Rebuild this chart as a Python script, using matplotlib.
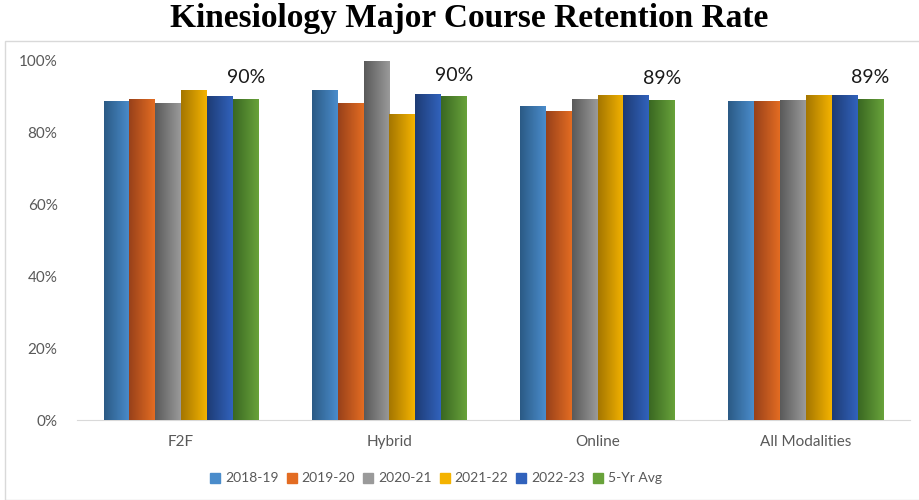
import matplotlib.pyplot as plt
import numpy as np
from matplotlib.colors import LinearSegmentedColormap
from matplotlib.patches import Rectangle

categories = ['F2F', 'Hybrid', 'Online', 'All Modalities']
series_names = ['2018-19', '2019-20', '2020-21', '2021-22', '2022-23', '5-Yr Avg']
values = {
    '2018-19': [88.6, 91.9, 87.2, 88.6],
    '2019-20': [89.4, 88.3, 85.8, 88.6],
    '2020-21': [88.3, 100.0, 89.4, 89.1],
    '2021-22': [91.9, 85.0, 90.3, 90.5],
    '2022-23': [90.0, 90.8, 90.3, 90.3],
    '5-Yr Avg': [89.4, 90.0, 89.1, 89.4],
}
avg_labels = ['90%', '90%', '89%', '89%']
yticks = [0, 20, 40, 60, 80, 100]

# dark -> light, left to right gradient like the Excel fill
colors = [
    ('#2b5a85', '#4a8ccb'),
    ('#98411a', '#e36c22'),
    ('#5a5a5a', '#9a9a9a'),
    ('#a47600', '#f4b300'),
    ('#1e3c75', '#3162bc'),
    ('#3a6822', '#68a23a'),
]

plt.rcParams['font.family'] = ['Lato', 'DejaVu Sans']

fig = plt.figure(figsize=[9.19, 5], dpi=100)
ax = fig.add_axes([77 / 919, 80 / 500, 833 / 919, 359 / 500])

# chart area border
fig.patches.append(Rectangle((5 / 919, 0), 1.2, 459 / 500, transform=fig.transFigure,
                             fill=False, edgecolor='#d9d9d9', linewidth=1))

x = np.arange(len(categories))
n = len(series_names)
width = 0.745 / n
grad = np.linspace(0, 1, 64).reshape(1, -1)

for i, name in enumerate(series_names):
    offs = x + (i - (n - 1) / 2) * width
    bars = ax.bar(offs, values[name], width, color=colors[i][1], label=name, zorder=2)
    cmap = LinearSegmentedColormap.from_list(name, list(colors[i]))
    for b in bars:
        x0, y0 = b.get_x(), b.get_y()
        ax.imshow(grad, cmap=cmap, aspect='auto', zorder=3,
                  extent=[x0, x0 + b.get_width(), y0, y0 + b.get_height()])

# data labels above the 5-yr avg bars
avg_x = x + (n - 1) / 2 * width
for xi, v, lab in zip(avg_x, values['5-Yr Avg'], avg_labels):
    ax.text(xi, v + 3.6, lab, ha='center', va='bottom', fontsize=14, color='#1a1a1a')

ax.set_xlim(-0.5, len(categories) - 0.5)
ax.set_ylim(0, 100)
ax.set_xticks(x)
ax.set_xticklabels(categories, fontsize=11, color='#595959')
ax.set_yticks(yticks)
ax.set_yticklabels([f'{t}%' for t in yticks], fontsize=11, color='#595959')
ax.tick_params(axis='y', length=0, pad=14)
ax.tick_params(axis='x', length=0, pad=11)
for s in ['top', 'right', 'left']:
    ax.spines[s].set_visible(False)
ax.spines['bottom'].set_color('#d9d9d9')

fig.text(0.511, 0.995, 'Kinesiology Major Course Retention Rate', family='Liberation Serif',
         fontweight='bold', fontsize=24, ha='center', va='top')

handles = [Rectangle((0, 0), 1, 1, color=c[1]) for c in colors]
fig.legend(handles, series_names, loc='center', bbox_to_anchor=(436 / 919, 0.043), ncol=6,
           frameon=False, fontsize=10, labelcolor='#595959', handlelength=0.7,
           handleheight=0.7, handletextpad=0.35, columnspacing=0.6)

fig.savefig('out.png', dpi=100)
